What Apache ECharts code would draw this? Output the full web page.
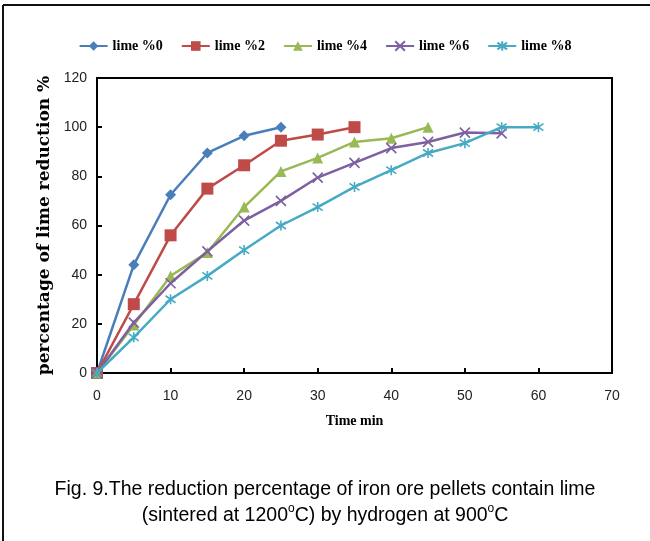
<!DOCTYPE html>
<html>
<head>
<meta charset="utf-8">
<script src="https://cdn.jsdelivr.net/npm/echarts@6/dist/echarts.min.js"></script>
<style>html,body{margin:0;padding:0;background:#fff;}#c{width:650px;height:541px;}</style>
</head>
<body>
<div id="c"></div>
<script>
var seriesNames = ['lime %0', 'lime %2', 'lime %4', 'lime %6', 'lime %8'];
var lime0 = [[0,0],[5,44],[10,72.5],[15,89.5],[20,96.5],[25,100]];
var lime2 = [[0,0],[5,28],[10,56],[15,75],[20,84.5],[25,94.5],[30,97],[35,100]];
var lime4 = [[0,0],[5,19.5],[10,39.5],[15,49],[20,67.5],[25,82],[30,87.5],[35,94],[40,95.5],[45,100]];
var lime6 = [[0,0],[5,20.5],[10,36.5],[15,49.5],[20,62],[25,70],[30,79.5],[35,85.5],[40,91.5],[45,94],[50,97.8],[55,97.5]];
var lime8 = [[0,0],[5,14.5],[10,30],[15,39.5],[20,50],[25,60],[30,67.5],[35,75.7],[40,82.5],[45,89.5],[50,93.5],[55,100],[60,100]];
var xTicks = [0,10,20,30,40,50,60,70];
var yTicks = [0,20,40,60,80,100,120];

var colors = ['#4A7EBB', '#BE4B48', '#98B954', '#7D60A0', '#46AAC5'];
var symbols = [
  'diamond',
  'rect',
  'triangle',
  'path://M0,0L10,10M10,0L0,10',
  'path://M5,0L5,10M0,1.5L10,8.5M10,1.5L0,8.5'
];
var sizes = [11, 12, 11, 10, 10];
var datasets = [lime0, lime2, lime4, lime6, lime8];

var series = datasets.map(function (d, i) {
  var stroke = i >= 3;
  return {
    name: seriesNames[i],
    type: 'line',
    data: d,
    symbol: symbols[i],
    symbolSize: sizes[i],
    lineStyle: { color: colors[i], width: 2.5 },
    itemStyle: {
      color: colors[i],
      borderColor: colors[i],
      borderWidth: stroke ? 1.6 : 0
    },
    emphasis: { disabled: true },
    z: 2 + i
  };
});

var chart = echarts.init(document.getElementById('c'));
chart.setOption({
  animation: false,
  backgroundColor: '#fff',
  grid: { left: 97, right: 38, top: 78, bottom: 168, show: true, borderColor: '#000', borderWidth: 2 },
  legend: {
    data: seriesNames,
    top: 34,
    left: 'center',
    itemWidth: 28,
    itemHeight: 12,
    itemGap: 18,
    textStyle: { fontFamily: 'Liberation Serif', fontWeight: 'bold', fontSize: 14, color: '#000' }
  },
  title: {
    text: '{a|Fig. 9.The reduction percentage of iron ore pellets contain lime}\n{a|(sintered at 1200}{s|o}{a|C) by hydrogen at 900}{s|o}{a|C}',
    left: 'center',
    top: 472,
    textStyle: {
      fontWeight: 'normal',
      rich: {
        a: { fontFamily: 'Liberation Sans', fontWeight: 'normal', fontSize: 19.5, color: '#000', lineHeight: 26 },
        s: { fontFamily: 'Liberation Sans', fontWeight: 'normal', fontSize: 12, color: '#000', lineHeight: 26, verticalAlign: 'top', padding: [0, 0, 7, 0] }
      }
    }
  },
  xAxis: {
    type: 'value',
    min: 0, max: 70, interval: 10,
    name: 'Time min',
    nameLocation: 'middle',
    nameGap: 41,
    nameTextStyle: { fontFamily: 'Liberation Serif', fontWeight: 'bold', fontSize: 14, color: '#000' },
    axisLine: { show: true, lineStyle: { color: '#000', width: 2 } },
    axisTick: { show: true, inside: true, length: 5, lineStyle: { color: '#000', width: 2 } },
    axisLabel: { fontFamily: 'Liberation Sans', fontSize: 14, color: '#222', margin: 16,
      formatter: function (v) { return xTicks.indexOf(v) >= 0 ? String(v) : ''; } },
    splitLine: { show: false }
  },
  yAxis: {
    type: 'value',
    min: 0, max: 120, interval: 20,
    name: 'percentage of lime reduction %',
    nameLocation: 'middle',
    nameGap: 44,
    nameRotate: 90,
    nameTextStyle: { fontFamily: 'DejaVu Serif', fontWeight: 'bold', fontSize: 17, color: '#000' },
    axisLine: { show: true, lineStyle: { color: '#000', width: 2 } },
    axisTick: { show: true, inside: true, length: 5, lineStyle: { color: '#000', width: 2 } },
    axisLabel: { fontFamily: 'Liberation Sans', fontSize: 14, color: '#222', margin: 10,
      formatter: function (v) { return yTicks.indexOf(v) >= 0 ? String(v) : ''; } },
    splitLine: { show: false }
  },
  graphic: [
    { type: 'line', shape: { x1: 3, y1: 5, x2: 650, y2: 5 }, style: { stroke: '#111', lineWidth: 2 } },
    { type: 'line', shape: { x1: 3, y1: 5, x2: 3, y2: 541 }, style: { stroke: '#111', lineWidth: 2 } }
  ],
  series: series
});
</script>
</body>
</html>
